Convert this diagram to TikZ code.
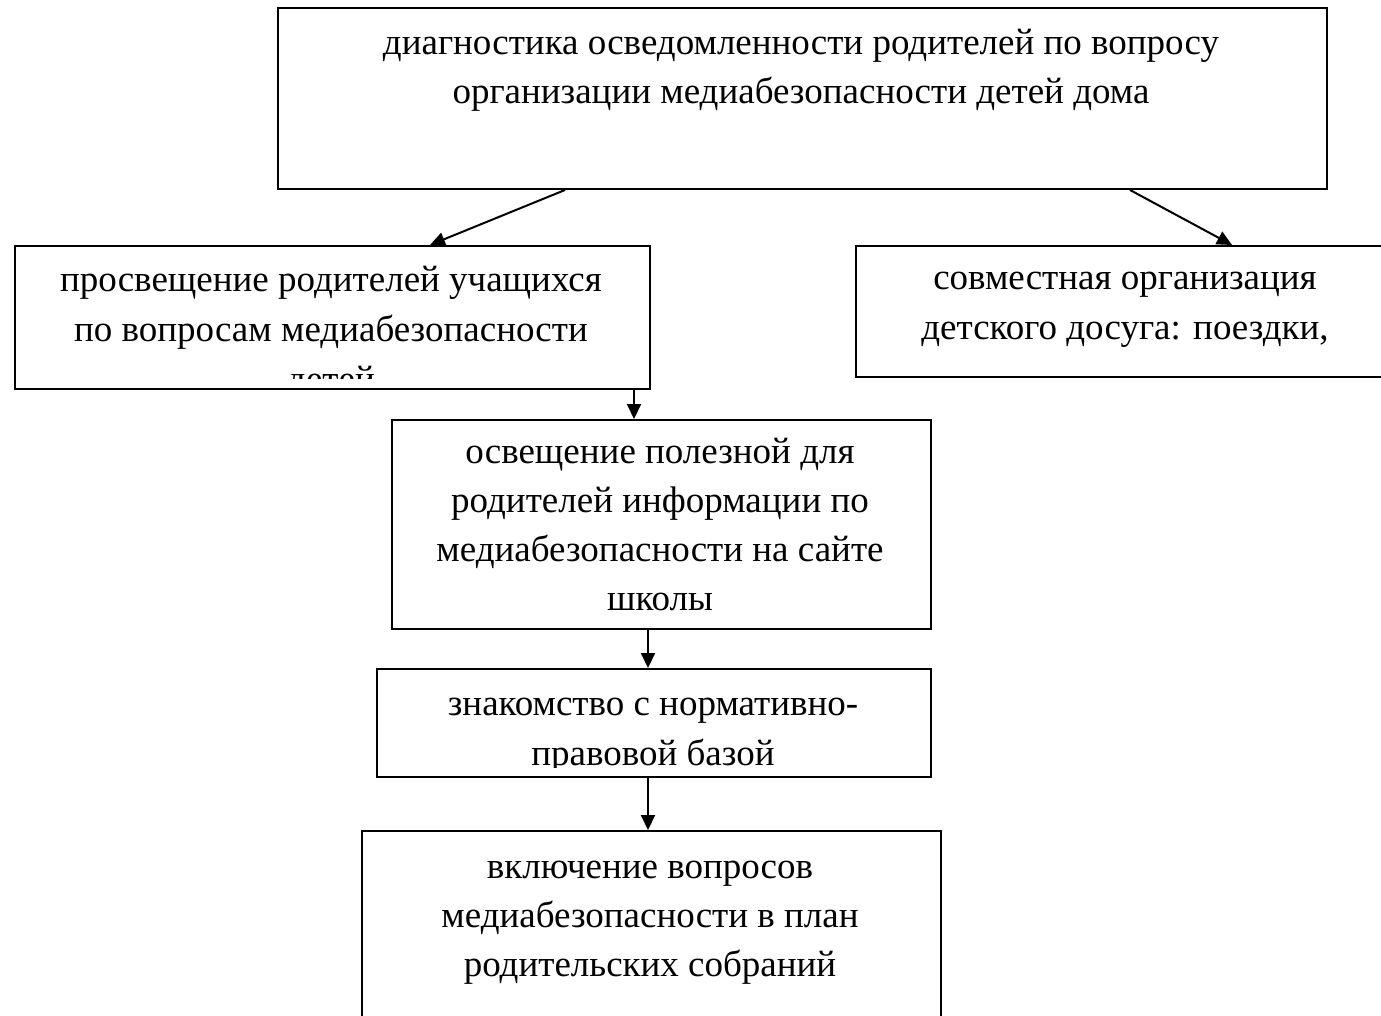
\documentclass[tikz,border=0pt]{standalone}
\usepackage{fontspec}
\setmainfont{Liberation Serif}
\usetikzlibrary{calc,arrows.meta}
\begin{document}
\begin{tikzpicture}[x=0.5pt,y=-0.5pt,
  boxnode/.style={draw,line width=1pt,rectangle,inner sep=0pt,anchor=north west},
  txt/.style={anchor=base,inner sep=0pt,font=\fontsize{18.5pt}{24.5pt}\selectfont},
  arr/.style={line width=1pt,-{Triangle[length=7.5pt,width=7pt]},shorten >=0pt}]
\useasboundingbox (0,0) rectangle (1381,1016);
\clip (0,0) rectangle (1381,1016);
% boxes
\node[boxnode,minimum width=524.5pt,minimum height=90.5pt] (b1) at (277,7) {};
\node[boxnode,minimum width=317.5pt,minimum height=71.5pt] (b2) at (14,245) {};
\node[boxnode,minimum width=270pt,minimum height=65.5pt] (b3) at (855,245) {};
\node[boxnode,minimum width=269.5pt,minimum height=104.5pt] (b4) at (391,419) {};
\node[boxnode,minimum width=277pt,minimum height=54pt] (b5) at (376,668) {};
\node[boxnode,minimum width=289.5pt,minimum height=100pt] (b6) at (361,830) {};
% texts
\node[txt] (t1a) at (801,55) {диагностика осведомленности родителей по вопросу};
\node[txt] (t1b) at (801,104) {организации медиабезопасности детей дома};
\begin{scope}
\clip (b2.north west) rectangle ($(b2.south east)+(0,-12)$);
\node[txt] (t2a) at (331,292) {просвещение родителей учащихся};
\node[txt] (t2b) at (331,341) {по вопросам медиабезопасности};
\node[txt] (t2c) at (331,391) {детей};
\end{scope}
\node[txt] (t3a) at (1125,290) {совместная организация};
\node[txt] (t3b) at (1125,339) {детского досуга: поездки,};
\node[txt] (t4a) at (660,463) {освещение полезной для};
\node[txt] (t4b) at (660,512) {родителей информации по};
\node[txt] (t4c) at (660,561) {медиабезопасности на сайте};
\node[txt] (t4d) at (660,610) {школы};
\begin{scope}
\clip (b5.north west) rectangle ($(b5.south east)+(0,-11)$);
\node[txt] (t5a) at (653,715) {знакомство с нормативно-};
\node[txt] (t5b) at (653,765) {правовой базой};
\end{scope}
\node[txt] (t6a) at (650,878) {включение вопросов};
\node[txt] (t6b) at (650,927) {медиабезопасности в план};
\node[txt] (t6c) at (650,976) {родительских собраний};
% connectors
\draw[arr] ($(b1.south west)+(288,0)$) -- ($(b2.north west)+(416,0)$);
\draw[arr] ($(b1.south west)+(853,0)$) -- ($(b3.north west)+(377,0)$);
\draw[arr] ($(b2.south west)+(620,0)$) -- ($(b4.north west)+(243,0)$);
\draw[arr] ($(b4.south west)+(257,0)$) -- ($(b5.north west)+(272,0)$);
\draw[arr] ($(b5.south west)+(272,0)$) -- ($(b6.north west)+(287,0)$);
\end{tikzpicture}
\end{document}
